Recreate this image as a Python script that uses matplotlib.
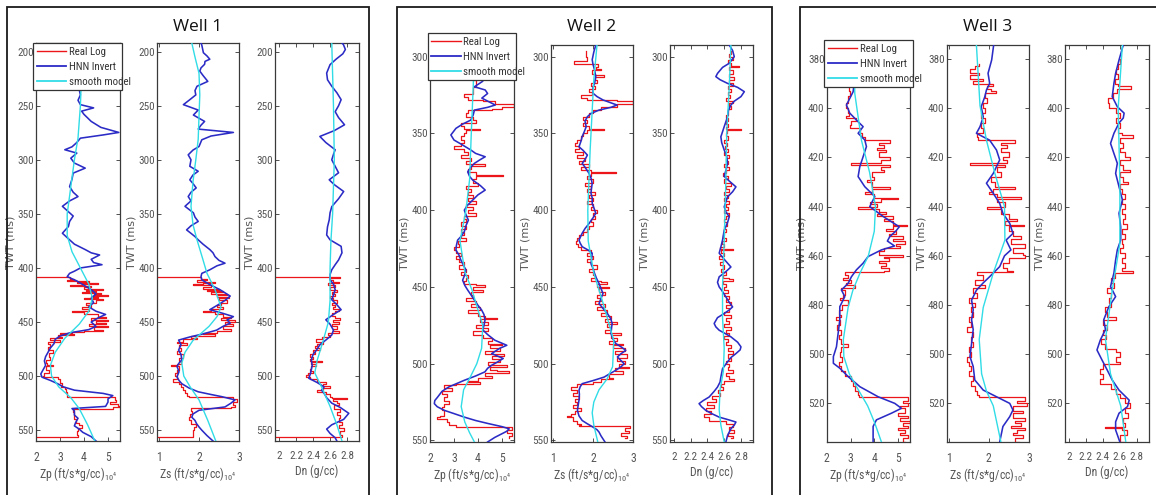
import matplotlib
matplotlib.use("Agg")
import matplotlib.pyplot as plt
from matplotlib.patches import Rectangle
from matplotlib.lines import Line2D

plt.rcParams['font.family'] = ['Liberation Sans Narrow', 'DejaVu Sans Condensed', 'Roboto Condensed',
                               'Liberation Sans', 'DejaVu Sans']

# ---------------------------------------------------------------- data
# ---- Well 1 ----
W1_ZP_REAL_T = [408, 408, 410, 411, 412, 413, 414, 415, 416, 417, 418, 419, 420, 421, 422, 423, 424, 425, 426, 427, 428, 429, 430, 432, 434, 436, 438, 440, 441, 443, 445, 446, 448, 449, 451, 452, 454, 455, 457, 458, 459, 460, 461, 462, 464, 465, 467, 468, 470, 473, 476, 479, 482, 485, 488, 490, 491, 494, 497, 500, 501, 503, 505, 506, 508, 510, 512, 515, 518, 519, 522, 524, 526, 528, 529, 530, 533, 537, 540, 543, 545, 548, 551, 554, 556.5, 556.5]
W1_ZP_REAL_V = [0, 3.4, 3.6, 3.3, 4.2, 3.7, 4.6, 3.9, 3.4, 4.3, 4.0, 4.8, 4.1, 4.5, 3.9, 4.7, 4.4, 5.0, 4.3, 4.6, 4.0, 4.8, 4.5, 4.1, 4.3, 3.9, 4.2, 3.5, 4.0, 4.6, 4.9, 4.3, 5.0, 4.5, 4.9, 4.2, 5.0, 4.4, 4.8, 4.0, 3.5, 3.0, 3.6, 2.9, 3.1, 2.6, 3.0, 2.5, 2.6, 2.5, 2.7, 2.55, 2.6, 2.4, 2.45, 2.7, 2.4, 2.55, 2.35, 2.3, 2.9, 3.0, 3.0, 3.1, 3.05, 3.2, 3.25, 3.3, 3.3, 5.3, 5.35, 5.1, 5.4, 5.5, 5.2, 3.55, 3.6, 3.6, 3.65, 3.8, 3.9, 3.75, 3.7, 3.75, 3.7, 0]
W1_ZP_HNN_T = [192, 200, 210, 220, 230, 240, 245, 249, 252, 255, 258, 264.5, 270, 274.7, 277, 280, 284, 288, 290.7, 293.8, 298.5, 303, 307.7, 312.3, 318, 324.7, 330, 334, 338, 343, 348, 352, 357, 361.7, 367.9, 374, 378, 383, 386, 388, 392, 395, 397, 400, 403, 405, 408, 412, 416, 420, 424, 428, 432, 436, 440, 443, 446, 450, 454, 457, 460, 463, 466, 470, 474, 478, 482, 486, 490, 494, 498, 501, 504, 507, 510, 513, 516, 518, 521, 524, 528, 530, 532, 536, 539, 543, 546, 549, 552, 556, 560]
W1_ZP_HNN_V = [3.8, 3.9, 3.7, 3.9, 3.75, 3.85, 3.75, 3.85, 4.4, 3.9, 4.0, 4.3, 4.7, 5.45, 4.8, 3.85, 3.7, 3.5, 3.2, 3.7, 3.45, 3.6, 4.05, 3.55, 3.5, 3.4, 3.55, 3.75, 3.4, 3.1, 3.35, 3.55, 3.4, 3.35, 3.1, 3.4, 3.6, 4.05, 4.3, 4.65, 4.3, 4.4, 4.75, 3.85, 3.6, 3.4, 3.3, 3.7, 4.0, 4.3, 4.5, 4.3, 4.4, 4.2, 4.5, 4.9, 4.6, 4.3, 4.5, 4.2, 3.4, 3.0, 2.8, 2.75, 2.6, 2.5, 2.4, 2.35, 2.4, 2.3, 2.2, 2.25, 2.6, 2.9, 3.15, 3.6, 4.8, 5.2, 5.0, 5.0, 4.9, 3.5, 3.6, 3.6, 3.75, 3.65, 3.6, 3.8, 3.95, 4.3, 4.5]
W1_ZP_SMOOTH_T = [192, 220, 250, 280, 300, 325, 350, 370, 385, 400, 415, 428, 440, 452, 465, 478, 490, 500, 510, 520, 530, 545, 560]
W1_ZP_SMOOTH_V = [3.95, 3.9, 3.85, 3.75, 3.6, 3.45, 3.3, 3.3, 3.5, 3.85, 4.2, 4.35, 4.2, 3.8, 3.2, 2.8, 2.6, 2.65, 2.95, 3.45, 3.8, 4.15, 4.45]

W1_ZS_REAL_T = [408, 408, 410, 411, 413, 414, 415, 416, 418, 419, 420, 421, 422, 424, 425, 427, 428, 430, 432, 434, 436, 438, 440, 441, 443, 445, 446, 448, 450, 452, 454, 456, 458, 460, 461, 463, 465, 466, 468, 469, 471, 474, 477, 480, 483, 486, 489, 490, 491, 494, 497, 500, 503, 505, 507, 510, 513, 516, 518, 519, 521, 524, 527, 529, 529.5, 532, 535, 538, 541, 544, 547, 550, 553, 556.5, 556.5]
W1_ZS_REAL_V = [0, 2.05, 2.2, 1.95, 2.4, 2.1, 1.85, 2.3, 2.1, 2.5, 2.2, 2.6, 2.3, 2.7, 2.45, 2.75, 2.5, 2.7, 2.55, 2.45, 2.6, 2.3, 2.1, 2.4, 2.6, 2.8, 2.55, 2.9, 2.65, 2.85, 2.6, 2.8, 2.45, 2.1, 2.4, 1.8, 1.95, 1.6, 1.45, 1.7, 1.5, 1.55, 1.45, 1.6, 1.5, 1.55, 1.45, 1.3, 1.5, 1.45, 1.4, 1.45, 1.35, 1.5, 1.55, 1.6, 1.65, 1.7, 1.75, 2.85, 2.95, 2.85, 2.9, 2.8, 1.8, 1.82, 1.78, 1.75, 1.8, 1.92, 1.88, 1.85, 1.85, 1.85, 0]
W1_ZS_HNN_T = [192, 194, 201, 204, 207, 209, 211.7, 215, 218, 222, 227.5, 232, 236, 240, 245, 249, 254, 258.6, 264.5, 268, 271.6, 274.7, 278, 281.5, 287.7, 291, 295.4, 300, 306, 310.6, 314, 318.5, 322, 326, 330, 334, 338, 343, 349, 353, 357, 361, 364.8, 368, 371, 374, 378, 383, 386, 389.5, 393, 395.6, 398, 401.7, 405, 408, 411, 415, 420, 423, 426, 430, 434, 438.6, 442, 445, 448, 451, 454, 457.5, 461, 463.7, 466.7, 471, 476, 480, 485, 488, 491, 496, 500.7, 504, 507, 511, 514.5, 517, 519, 522, 525, 528.5, 531.6, 535, 538, 541, 544, 547, 550, 555, 560]
W1_ZS_HNN_V = [2.05, 2.07, 2.11, 2.2, 2.27, 2.15, 2.14, 2.05, 2.02, 2.1, 2.22, 1.95, 1.9, 1.92, 1.75, 1.61, 1.98, 1.86, 2.14, 2.05, 1.98, 2.86, 2.3, 2.07, 2.0, 1.85, 1.73, 1.8, 1.77, 1.98, 1.85, 1.77, 1.85, 1.93, 1.8, 1.73, 1.8, 1.65, 1.86, 1.9, 1.98, 1.8, 1.69, 1.8, 1.9, 1.98, 2.1, 2.27, 2.35, 2.4, 2.5, 2.65, 2.45, 2.27, 2.07, 2.05, 2.07, 2.25, 2.52, 2.65, 2.78, 2.65, 2.48, 2.27, 2.6, 2.86, 2.7, 2.78, 2.6, 2.44, 2.1, 1.78, 1.49, 1.55, 1.49, 1.55, 1.57, 1.5, 1.45, 1.5, 1.45, 1.5, 1.57, 1.75, 1.98, 2.3, 2.57, 2.9, 2.8, 2.65, 2.0, 1.85, 1.82, 1.9, 1.94, 2.0, 2.07, 2.2, 2.35]
W1_ZS_SMOOTH_T = [192, 205, 220, 240, 260, 281, 300, 320, 343, 360, 374, 390, 405, 420, 436, 445, 454, 467, 478, 488, 500, 510, 522, 541, 560]
W1_ZS_SMOOTH_V = [1.82, 1.9, 2.0, 2.02, 2.0, 1.98, 1.92, 1.85, 1.8, 1.85, 1.95, 2.08, 2.2, 2.4, 2.55, 2.45, 2.25, 1.85, 1.65, 1.57, 1.62, 1.78, 2.0, 2.22, 2.42]

W1_DN_REAL_T = [408, 408, 408.5, 409, 411, 413, 414, 416, 418, 420, 422, 424, 426, 428, 430, 432, 434, 436, 438, 440, 442, 444, 446, 448, 450, 452, 454, 456, 458, 460, 462, 464, 466, 468, 470, 472, 474, 476, 478, 480, 482, 484, 486, 487, 489, 491, 493, 495, 497, 499, 501, 503, 505, 507, 509, 511, 513, 515, 517, 519, 520, 521, 523, 525, 527, 530, 533, 536, 539, 542, 545, 548, 551, 554, 556.5, 556.5]
W1_DN_REAL_V = [0, 2.62, 2.72, 2.6, 2.63, 2.7, 2.58, 2.66, 2.6, 2.68, 2.62, 2.66, 2.6, 2.64, 2.68, 2.62, 2.66, 2.64, 2.7, 2.66, 2.62, 2.66, 2.72, 2.64, 2.7, 2.62, 2.68, 2.64, 2.7, 2.58, 2.6, 2.5, 2.44, 2.52, 2.45, 2.42, 2.48, 2.4, 2.42, 2.36, 2.4, 2.36, 2.5, 2.38, 2.44, 2.38, 2.36, 2.4, 2.34, 2.32, 2.36, 2.45, 2.55, 2.52, 2.6, 2.52, 2.45, 2.55, 2.6, 2.62, 2.8, 2.64, 2.68, 2.7, 2.65, 2.72, 2.68, 2.72, 2.7, 2.74, 2.7, 2.76, 2.72, 2.74, 2.72, 0]
W1_DN_HNN_T = [192, 193.5, 198, 202, 207, 212, 219.8, 226, 232, 238, 244.4, 250, 255.5, 261, 267.6, 273, 278.4, 284, 290.7, 295, 300, 306, 312, 318.5, 323, 329.3, 336, 343.3, 349, 355.6, 362, 369.5, 374, 380, 386, 392.6, 397, 401.7, 406, 411, 415, 420, 425, 429.4, 434, 438.6, 443, 447.9, 452, 457.5, 462, 466.7, 471, 476, 480, 485, 490, 497.6, 502, 506, 510, 513, 516, 520, 525, 529, 534.4, 540, 545, 549, 553, 557, 560]
W1_DN_HNN_V = [2.74, 2.757, 2.78, 2.75, 2.67, 2.6, 2.56, 2.57, 2.62, 2.68, 2.73, 2.7, 2.66, 2.7, 2.77, 2.65, 2.48, 2.55, 2.66, 2.64, 2.62, 2.66, 2.7, 2.59, 2.65, 2.76, 2.7, 2.62, 2.6, 2.59, 2.57, 2.56, 2.6, 2.73, 2.74, 2.7, 2.66, 2.62, 2.6, 2.6, 2.64, 2.66, 2.64, 2.62, 2.68, 2.73, 2.64, 2.55, 2.6, 2.64, 2.62, 2.55, 2.48, 2.44, 2.4, 2.38, 2.39, 2.37, 2.35, 2.45, 2.53, 2.5, 2.53, 2.56, 2.62, 2.72, 2.82, 2.76, 2.62, 2.56, 2.6, 2.66, 2.68]
W1_DN_SMOOTH_T = [192, 250, 300, 350, 375, 400, 430, 450, 467, 485, 497, 510, 528, 545, 560]
W1_DN_SMOOTH_V = [2.62, 2.64, 2.65, 2.63, 2.61, 2.6, 2.6, 2.58, 2.52, 2.45, 2.42, 2.5, 2.6, 2.68, 2.74]

# ---- Well 2 ----
W2_ZP_REAL_T = [296, 300, 305, 310, 315, 320, 322, 324, 326, 328, 329, 331, 333, 334, 335, 337, 339, 341, 343, 345, 347, 348, 350, 352, 354, 356, 358, 360, 362, 364, 366, 368, 370, 371, 373, 375, 377, 378, 380, 382, 384, 386, 388, 390, 392, 394, 396, 398, 400, 402, 404, 406, 408, 410, 412, 414, 416, 418, 420, 422, 424, 426, 428, 430, 432, 434, 436, 438, 440, 442, 444, 446, 448, 449, 450, 452, 453, 455, 457, 459, 461, 463, 465, 467, 469, 470, 471, 473, 475, 477, 479, 481, 483, 485, 487, 488, 490, 492, 494, 495, 497, 499, 501, 502, 504, 505, 506, 508, 509, 511, 512, 513, 514, 516, 518, 520, 522, 524, 526, 528, 530, 532, 534, 535, 536, 538, 540, 541, 543, 545, 547, 548.5]
W2_ZP_REAL_V = [3.6, 3.7, 3.9, 3.8, 3.9, 3.8, 3.8, 3.4, 3.6, 4.2, 4.7, 5.5, 5.0, 4.6, 3.6, 3.5, 3.8, 3.9, 3.3, 3.4, 4.1, 3.5, 3.4, 3.3, 3.4, 3.3, 3.0, 3.4, 3.6, 3.3, 3.7, 3.5, 4.3, 3.7, 3.6, 3.9, 5.05, 3.9, 3.8, 4.0, 3.5, 3.7, 3.6, 3.8, 3.6, 3.9, 3.5, 3.8, 3.6, 3.9, 3.4, 3.5, 3.3, 3.5, 3.3, 3.4, 3.3, 3.5, 3.15, 3.2, 3.0, 3.1, 3.3, 3.1, 3.2, 3.4, 3.2, 3.5, 3.3, 3.6, 3.5, 3.4, 3.9, 4.3, 3.8, 4.2, 3.7, 3.8, 3.5, 3.9, 3.7, 4.1, 3.6, 4.0, 4.3, 4.8, 4.1, 4.4, 3.9, 4.4, 3.8, 4.2, 4.6, 4.4, 5.0, 4.5, 4.9, 4.3, 5.1, 4.6, 4.9, 4.4, 5.2, 4.5, 4.8, 5.3, 4.3, 4.6, 4.0, 3.6, 4.1, 3.1, 2.6, 2.9, 2.5, 2.7, 2.6, 2.8, 2.6, 2.5, 2.6, 2.6, 2.4, 2.3, 2.7, 2.8, 3.1, 5.4, 5.2, 5.4, 5.3, 5.3]
W2_ZP_HNN_T = [292.4, 300, 310, 316, 319.6, 321.7, 324, 327, 331.5, 333, 334.8, 338, 341.3, 344, 346.7, 351, 354.3, 357, 360.8, 363, 365.2, 367, 369.5, 372, 375, 378, 380.4, 384, 386.9, 390, 393.4, 397, 400, 403, 406.5, 410, 414, 417, 419.5, 423, 426, 429, 432.6, 436, 439, 442, 445.6, 449, 452, 455, 458.6, 462, 465, 468, 471.7, 475, 478, 481, 484.7, 488, 490, 493.4, 496.6, 499, 501, 503, 505.3, 508, 510.8, 513, 515, 518, 521.7, 524, 526, 528, 530.4, 532.5, 534.8, 537, 539, 541, 542.4, 544, 545.6, 548, 551]
W2_ZP_HNN_V = [4.0, 4.1, 3.9, 4.2, 3.85, 4.3, 4.4, 4.16, 4.72, 4.4, 3.85, 3.8, 3.7, 3.35, 3.08, 2.87, 3.0, 3.3, 3.7, 3.9, 4.3, 4.1, 3.85, 3.7, 3.57, 3.65, 3.78, 4.1, 4.3, 4.0, 3.78, 3.55, 3.43, 3.5, 3.6, 3.5, 3.43, 3.3, 3.15, 3.1, 3.08, 3.2, 3.29, 3.4, 3.5, 3.45, 3.36, 3.45, 3.57, 3.7, 3.85, 4.0, 4.15, 4.25, 4.29, 4.25, 4.2, 4.4, 4.7, 5.2, 4.9, 4.57, 5.05, 4.8, 4.57, 4.4, 4.29, 3.9, 3.43, 3.1, 2.8, 2.5, 2.32, 2.2, 2.18, 2.3, 2.6, 3.0, 3.43, 3.9, 4.43, 5.0, 5.3, 5.2, 5.0, 4.7, 4.4]
W2_ZP_SMOOTH_T = [292.4, 320, 350, 380, 400, 420, 440, 452, 465, 475, 490, 500, 508, 517, 528, 538, 545, 551]
W2_ZP_SMOOTH_V = [3.85, 3.8, 3.72, 3.65, 3.5, 3.25, 3.45, 3.75, 4.0, 4.2, 4.15, 3.95, 3.7, 3.4, 3.3, 3.45, 3.65, 3.85]

W2_ZS_REAL_T = [296, 300, 302.5, 302.5, 305, 305, 307, 308, 309, 311, 312, 313, 315, 317, 319, 321, 323, 325, 327, 328, 329, 331, 333, 335, 337, 339, 341, 343, 345, 347, 348, 350, 352, 354, 356, 358, 360, 362, 364, 366, 368, 370, 372, 374, 375, 376, 378, 380, 382, 384, 386, 388, 390, 392, 394, 396, 398, 400, 402, 404, 406, 408, 410, 412, 414, 416, 418, 420, 422, 424, 426, 428, 430, 432, 434, 436, 438, 440, 442, 444, 446, 447, 448, 450, 451, 453, 455, 457, 459, 461, 463, 465, 467, 469, 471, 473, 474, 476, 478, 480, 481, 483, 485, 487, 488, 490, 492, 494, 496, 498, 500, 502, 503, 505, 507, 509, 510, 512, 513, 515, 517, 519, 521, 523, 525, 527, 529, 531, 533, 534, 535, 537, 539, 540, 540.5, 542, 544, 545, 547, 548.5]
W2_ZS_REAL_V = [1.82, 1.85, 1.82, 1.53, 1.53, 2.12, 2.08, 2.2, 1.98, 2.05, 2.28, 2.05, 2.1, 1.95, 2.05, 1.9, 1.98, 1.7, 1.85, 2.6, 3.0, 2.6, 2.2, 2.0, 1.9, 1.75, 1.85, 1.75, 1.9, 2.28, 1.85, 1.75, 1.7, 1.6, 1.55, 1.65, 1.55, 1.75, 1.6, 1.8, 1.65, 1.9, 1.7, 1.95, 2.57, 1.95, 1.85, 2.0, 1.8, 1.95, 1.85, 2.05, 1.9, 2.0, 1.85, 2.0, 1.95, 2.1, 2.0, 2.05, 1.95, 2.0, 1.9, 1.85, 1.75, 1.65, 1.6, 1.58, 1.62, 1.7, 1.95, 1.85, 2.0, 1.85, 1.95, 2.1, 1.9, 2.0, 2.05, 1.95, 2.2, 2.35, 2.1, 2.4, 2.15, 2.3, 2.1, 2.2, 2.05, 2.3, 2.1, 2.35, 2.2, 2.45, 2.3, 2.6, 2.35, 2.45, 2.3, 2.7, 2.45, 2.6, 2.4, 2.75, 2.5, 2.8, 2.55, 2.85, 2.6, 2.8, 2.65, 2.9, 2.55, 2.75, 2.4, 2.5, 2.2, 2.0, 1.6, 1.45, 1.6, 1.5, 1.65, 1.55, 1.6, 1.5, 1.7, 1.55, 1.45, 1.35, 1.5, 1.6, 1.7, 1.65, 2.93, 2.8, 2.9, 2.7, 2.85, 2.8]
W2_ZS_HNN_T = [292.4, 297, 302, 305, 308.7, 313, 317.3, 320, 323.8, 326, 328.2, 331.5, 333, 334.8, 337, 339.1, 342, 345.6, 349, 352, 355, 358.7, 361, 364.1, 367, 369.5, 372, 376, 379, 382.6, 386, 389, 392, 395.6, 399, 402, 405, 408.7, 412, 415, 419.5, 421.5, 423.8, 426, 428, 431, 434.8, 438, 441.2, 444, 447.7, 451, 454.3, 457.5, 460.8, 464, 467.3, 470.5, 473.8, 477, 480.4, 484, 486.9, 489, 491.3, 493.5, 495.6, 498, 500, 502, 504.3, 506.5, 508.7, 511, 513, 515, 517.3, 520, 523.8, 527, 530.4, 534, 537, 539, 541.3, 543, 544.5, 547, 551]
W2_ZS_HNN_V = [2.07, 2.02, 1.98, 2.0, 2.04, 2.07, 2.04, 2.0, 2.0, 2.1, 2.25, 2.6, 2.45, 2.15, 1.95, 1.86, 1.8, 1.83, 1.78, 1.73, 1.7, 1.65, 1.75, 1.86, 1.8, 1.73, 1.8, 1.9, 1.95, 1.98, 1.96, 1.95, 1.98, 1.98, 2.03, 2.07, 2.0, 1.9, 1.8, 1.73, 1.65, 1.68, 1.73, 1.88, 1.98, 1.97, 1.95, 2.0, 2.04, 2.08, 2.15, 2.2, 2.25, 2.2, 2.15, 2.25, 2.36, 2.44, 2.48, 2.46, 2.45, 2.5, 2.57, 2.7, 2.82, 2.7, 2.61, 2.7, 2.78, 2.7, 2.57, 2.42, 2.28, 2.0, 1.73, 1.68, 1.65, 1.66, 1.65, 1.63, 1.61, 1.65, 1.73, 1.85, 2.0, 2.1, 2.15, 2.2, 2.3]
W2_ZS_SMOOTH_T = [292.4, 315, 340, 360, 380, 400, 420, 441, 463, 485, 502, 510, 517, 525, 532, 540, 551]
W2_ZS_SMOOTH_V = [2.1, 2.02, 1.97, 1.93, 1.9, 1.87, 1.88, 2.02, 2.28, 2.52, 2.49, 2.35, 2.15, 2.02, 1.98, 2.02, 2.12]

W2_DN_REAL_T = [296, 298, 300, 302, 304, 306, 307, 309, 311, 313, 315, 317, 319, 321, 323, 325, 327, 329, 330, 332, 334, 336, 338, 340, 342, 344, 346, 347, 348, 350, 352, 354, 356, 358, 360, 362, 364, 366, 368, 370, 372, 374, 376, 378, 380, 382, 384, 386, 388, 390, 392, 394, 396, 398, 400, 402, 404, 406, 408, 410, 412, 414, 416, 418, 420, 422, 424, 425, 426, 428, 430, 432, 434, 436, 438, 440, 442, 444, 445, 446, 448, 450, 452, 454, 456, 458, 460, 462, 464, 466, 468, 470, 472, 474, 476, 478, 480, 482, 484, 486, 488, 490, 492, 494, 496, 498, 500, 502, 504, 506, 508, 510, 511, 513, 515, 517, 519, 521, 523, 525, 527, 529, 531, 533, 535, 537, 539, 541, 543, 545, 547, 548.5]
W2_DN_REAL_V = [2.68, 2.66, 2.7, 2.64, 2.68, 2.78, 2.66, 2.7, 2.66, 2.72, 2.66, 2.7, 2.65, 2.68, 2.64, 2.67, 2.62, 2.7, 2.66, 2.68, 2.64, 2.65, 2.62, 2.64, 2.62, 2.64, 2.62, 2.8, 2.63, 2.62, 2.64, 2.6, 2.63, 2.61, 2.64, 2.6, 2.66, 2.62, 2.65, 2.6, 2.66, 2.62, 2.58, 2.64, 2.6, 2.68, 2.62, 2.66, 2.6, 2.64, 2.6, 2.66, 2.62, 2.64, 2.6, 2.66, 2.62, 2.6, 2.63, 2.6, 2.62, 2.6, 2.58, 2.62, 2.57, 2.6, 2.55, 2.7, 2.56, 2.6, 2.54, 2.58, 2.55, 2.6, 2.56, 2.62, 2.58, 2.66, 2.7, 2.58, 2.62, 2.6, 2.64, 2.6, 2.66, 2.62, 2.68, 2.62, 2.66, 2.6, 2.68, 2.62, 2.66, 2.6, 2.68, 2.62, 2.66, 2.6, 2.64, 2.62, 2.68, 2.64, 2.7, 2.64, 2.68, 2.62, 2.66, 2.64, 2.7, 2.62, 2.66, 2.72, 2.6, 2.56, 2.58, 2.52, 2.55, 2.45, 2.5, 2.4, 2.48, 2.38, 2.44, 2.36, 2.42, 2.62, 2.7, 2.66, 2.72, 2.64, 2.7, 2.68]
W2_DN_HNN_T = [292.4, 296, 300, 304.3, 307, 310.9, 313, 315, 317.4, 320, 322.8, 326, 329, 331.5, 335, 339.1, 345.6, 352.2, 356, 360.8, 365, 369.5, 374, 378, 381, 384.8, 388, 391.3, 397.8, 401, 404.3, 408, 413, 419.5, 424, 428, 432, 437, 440, 443.4, 447, 450, 453, 456.5, 460, 463, 465, 467.3, 470, 473.8, 476, 478.2, 480, 482.5, 486, 489, 491, 493.4, 496, 498.8, 503.2, 508.7, 512, 515.2, 518, 521.7, 524, 526, 528, 530.4, 532.5, 534.8, 536.5, 538, 540, 542.4, 546.7, 551]
W2_DN_HNN_V = [2.66, 2.7, 2.72, 2.66, 2.58, 2.52, 2.5, 2.55, 2.64, 2.76, 2.84, 2.8, 2.72, 2.68, 2.65, 2.64, 2.6, 2.56, 2.57, 2.6, 2.63, 2.64, 2.62, 2.6, 2.66, 2.74, 2.7, 2.64, 2.6, 2.62, 2.66, 2.64, 2.6, 2.58, 2.56, 2.54, 2.6, 2.68, 2.62, 2.54, 2.52, 2.54, 2.58, 2.62, 2.66, 2.7, 2.66, 2.6, 2.52, 2.48, 2.5, 2.54, 2.6, 2.68, 2.76, 2.8, 2.79, 2.74, 2.68, 2.64, 2.58, 2.56, 2.55, 2.52, 2.48, 2.42, 2.35, 2.3, 2.33, 2.38, 2.45, 2.54, 2.65, 2.74, 2.72, 2.68, 2.64, 2.62]
W2_DN_SMOOTH_T = [292.4, 320, 350, 380, 420, 450, 470, 490, 505, 517, 530, 540, 551]
W2_DN_SMOOTH_V = [2.68, 2.66, 2.63, 2.62, 2.6, 2.58, 2.58, 2.6, 2.59, 2.55, 2.54, 2.56, 2.6]

# ---- Well 3 ----
W3_ZP_REAL_T = [382, 386, 390, 393, 395, 398, 400, 402, 403, 404, 405, 407, 408, 410, 411.6, 413, 414, 415, 416, 417, 418, 420, 421, 422.4, 423, 424, 425, 426, 428, 429, 430, 432, 433, 434, 435, 436.5, 437, 438, 439, 440, 441, 442, 443, 444, 445, 446, 447.5, 448, 449, 450, 451, 452, 453, 454, 455, 456, 457, 458, 459.6, 460.5, 461, 462, 463, 464, 465, 466, 466.5, 468, 469, 470, 471, 472, 473, 474, 476, 477, 478, 480, 482, 484, 485, 486, 488, 490, 492, 494, 496, 497, 499, 501, 503, 505, 507, 509, 511, 513, 515, 516.5, 517.5, 519, 520, 521, 522, 524, 525, 526, 527, 528, 529, 530, 531, 532, 533, 534, 535.7]
W3_ZP_REAL_V = [3.0, 3.1, 2.95, 2.97, 2.9, 2.83, 2.9, 2.95, 2.8, 3.25, 3.0, 2.97, 3.4, 3.5, 3.6, 4.65, 4.2, 4.4, 4.1, 4.5, 4.2, 4.65, 4.3, 3.04, 4.65, 4.3, 4.4, 3.9, 4.0, 3.7, 3.9, 4.65, 3.9, 3.6, 4.0, 5.0, 4.3, 3.8, 4.1, 3.32, 4.2, 4.5, 4.1, 4.8, 4.4, 4.8, 5.37, 4.8, 4.5, 4.9, 4.6, 5.2, 4.8, 5.3, 4.9, 5.1, 4.4, 4.2, 5.2, 4.4, 4.6, 4.2, 4.5, 4.3, 4.6, 4.4, 2.76, 2.9, 2.7, 3.0, 2.8, 3.2, 2.6, 2.75, 2.7, 2.55, 2.9, 2.65, 2.5, 2.6, 2.4, 2.55, 2.45, 2.6, 2.5, 2.6, 2.9, 2.6, 2.55, 2.65, 2.5, 2.6, 2.75, 3.0, 3.1, 3.2, 3.3, 3.35, 5.4, 5.2, 5.4, 5.1, 5.3, 5.0, 5.4, 5.1, 5.5, 5.2, 5.4, 5.0, 5.3, 5.1, 5.4, 5.2, 5.3]
W3_ZP_HNN_T = [374.3, 380, 386, 390, 393.3, 396, 398.7, 402, 405.5, 407.5, 410.2, 412.9, 415.6, 419.7, 423.8, 427.8, 431.9, 435.9, 440, 444, 448.2, 450, 452.2, 454, 456, 457.6, 460.3, 463, 465.7, 468.5, 471.2, 473.9, 476.6, 480.7, 486.1, 491.5, 497, 501, 503.7, 505.7, 509.1, 513.2, 517.3, 520, 522, 524, 526.7, 529.4, 535.7]
W3_ZP_HNN_V = [3.2, 3.25, 3.2, 3.15, 3.11, 2.97, 2.83, 2.97, 3.32, 3.53, 3.32, 3.6, 3.67, 3.53, 3.39, 3.32, 3.6, 4.02, 3.81, 4.37, 5.05, 4.9, 4.65, 4.55, 4.85, 4.3, 3.74, 3.53, 3.25, 3.04, 2.9, 2.62, 2.76, 2.55, 2.55, 2.48, 2.41, 2.28, 2.28, 2.55, 2.9, 3.39, 4.16, 4.86, 5.14, 4.72, 4.09, 3.95, 3.95]
W3_ZP_SMOOTH_T = [374.3, 394, 413, 426, 440, 450, 460, 467, 474, 481, 494, 501, 508, 514, 521, 528, 535.7]
W3_ZP_SMOOTH_V = [3.15, 3.18, 3.46, 3.8, 4.05, 4.0, 3.75, 3.4, 3.1, 2.9, 2.7, 2.72, 2.95, 3.3, 3.72, 4.02, 4.3]

W3_ZS_REAL_T = [382, 383, 384, 385.5, 386.5, 388, 389, 390, 391, 392, 393, 394, 396, 398, 400, 402, 404, 406, 408, 410, 411.5, 413, 414, 415, 416, 418, 420, 421, 422.4, 423, 424, 426, 428, 430, 432, 433, 434, 435, 436, 437, 438, 440, 441, 443, 445, 446, 447.5, 448, 450, 452, 453, 455, 457, 459, 459.6, 461, 463, 465, 466, 466.5, 468, 470, 472, 473, 475, 477, 479, 481, 483, 485, 487, 489, 491, 493, 495, 497, 499, 501, 503, 505, 507, 509, 511, 513, 515, 516.5, 517.5, 519, 520, 521, 523, 524, 526, 527, 528, 529, 530, 531, 532, 533, 534, 535.7]
W3_ZS_REAL_V = [1.75, 1.66, 1.53, 1.75, 1.53, 1.85, 1.6, 2.1, 1.95, 2.05, 2.18, 1.9, 1.95, 1.85, 1.9, 1.8, 1.9, 1.8, 1.85, 1.7, 1.72, 2.64, 2.3, 2.45, 2.3, 2.5, 2.35, 2.45, 1.53, 2.4, 2.2, 2.3, 2.05, 2.15, 2.64, 2.1, 2.0, 2.2, 2.8, 2.2, 2.4, 1.95, 2.3, 2.5, 2.7, 2.4, 2.87, 2.5, 2.6, 2.8, 2.55, 2.9, 2.6, 2.85, 2.9, 2.5, 2.35, 2.45, 2.6, 1.7, 1.85, 1.65, 1.9, 1.6, 1.7, 1.5, 1.65, 1.55, 1.6, 1.5, 1.55, 1.45, 1.6, 1.55, 1.6, 1.5, 1.55, 1.45, 1.5, 1.55, 1.5, 1.6, 1.55, 1.65, 1.7, 1.75, 2.9, 2.7, 2.95, 2.6, 2.85, 2.6, 2.9, 2.65, 2.8, 2.55, 2.9, 2.7, 2.6, 2.85, 2.65, 2.75]
W3_ZS_HNN_T = [374.3, 380.4, 385.8, 389.9, 392.6, 395.3, 399.4, 403.5, 407.5, 410.2, 413, 417, 421, 426.5, 430.5, 434.6, 438.7, 442.7, 446.8, 450.9, 453.6, 457.6, 460, 464.4, 468.5, 471, 474, 478, 482, 486, 490, 495.6, 501, 505, 510.5, 514.6, 517.3, 520, 522.7, 525.4, 529.4, 535.7]
W3_ZS_HNN_V = [2.12, 2.07, 1.98, 2.02, 1.94, 1.9, 1.81, 1.86, 1.78, 1.69, 2.02, 2.19, 2.27, 2.11, 1.94, 2.11, 2.27, 2.35, 2.52, 2.6, 2.43, 2.55, 2.39, 2.27, 2.02, 1.86, 1.69, 1.57, 1.61, 1.57, 1.61, 1.57, 1.53, 1.61, 1.65, 1.86, 2.19, 2.52, 2.6, 2.52, 2.35, 2.27]
W3_ZS_SMOOTH_T = [374.3, 399, 413, 426.5, 440, 453.6, 467, 481, 494, 508, 515, 521, 535.7]
W3_ZS_SMOOTH_V = [1.69, 1.78, 1.94, 2.15, 2.39, 2.4, 2.11, 1.86, 1.76, 1.82, 1.94, 2.11, 2.3]

W3_DN_REAL_T = [380, 382, 384, 386, 388, 390, 391, 392, 394, 396, 398, 400, 402, 404, 406, 408, 410, 411, 412, 414, 416, 418, 420, 421, 423, 425, 426, 428, 430, 431, 433, 435, 437, 439, 441, 443, 445, 447, 449, 451, 453, 455, 457, 459, 461, 463, 465, 466, 467, 469, 471, 473, 475, 477, 479, 481, 483, 485, 486, 488, 490, 492, 494, 496, 498, 499, 501, 503, 504, 506, 508, 510, 512, 514, 516, 518, 520, 522, 524, 526, 528, 529.4, 530, 531, 533, 535.7]
W3_DN_REAL_V = [2.6, 2.58, 2.55, 2.58, 2.54, 2.58, 2.73, 2.57, 2.52, 2.46, 2.47, 2.55, 2.6, 2.56, 2.6, 2.58, 2.62, 2.75, 2.6, 2.64, 2.6, 2.66, 2.72, 2.6, 2.64, 2.72, 2.6, 2.64, 2.7, 2.6, 2.62, 2.66, 2.62, 2.66, 2.62, 2.66, 2.64, 2.68, 2.62, 2.66, 2.62, 2.64, 2.6, 2.66, 2.62, 2.66, 2.62, 2.75, 2.54, 2.5, 2.53, 2.45, 2.5, 2.47, 2.5, 2.42, 2.45, 2.55, 2.4, 2.45, 2.4, 2.44, 2.38, 2.42, 2.55, 2.6, 2.56, 2.6, 2.4, 2.36, 2.4, 2.37, 2.5, 2.56, 2.6, 2.66, 2.72, 2.66, 2.7, 2.64, 2.66, 2.42, 2.62, 2.68, 2.6, 2.66]
W3_DN_HNN_T = [374.3, 380.4, 385.8, 389.9, 395.3, 399.4, 402, 404, 406, 410.2, 414.3, 418.4, 422.4, 426.5, 431.9, 437.3, 442.7, 448.2, 453.6, 457.6, 461.7, 467, 472.5, 476.6, 480.7, 486, 490, 494.2, 498.3, 502.4, 506.4, 510.5, 514.6, 518.7, 521.3, 524, 527.5, 530.8, 535.7]
W3_DN_HNN_V = [2.64, 2.59, 2.55, 2.53, 2.51, 2.57, 2.65, 2.64, 2.59, 2.53, 2.49, 2.53, 2.57, 2.55, 2.59, 2.63, 2.59, 2.61, 2.61, 2.57, 2.55, 2.53, 2.49, 2.55, 2.47, 2.41, 2.43, 2.37, 2.33, 2.39, 2.45, 2.51, 2.59, 2.71, 2.69, 2.59, 2.55, 2.55, 2.6]
W3_DN_SMOOTH_T = [374.3, 400, 430, 455, 474, 494, 508, 521, 535.7]
W3_DN_SMOOTH_V = [2.63, 2.58, 2.6, 2.6, 2.51, 2.43, 2.49, 2.61, 2.67]

WELL_TITLES = ["Well 1", "Well 2", "Well 3"]
YLIMS = [(192, 560), (292.4, 551), (374.3, 535.7)]
YTICKS = [[200, 250, 300, 350, 400, 450, 500, 550],
          [300, 350, 400, 450, 500, 550],
          [380, 400, 420, 440, 460, 480, 500, 520]]
TRACK_XLIMS = [(2, 5.5), (0.95, 3.0), (1.953, 2.94)]
TRACK_XTICKS = [[2, 3, 4, 5], [1, 2, 3], [2, 2.2, 2.4, 2.6, 2.8]]
TRACK_XTICKLABELS = [["2", "3", "4", "5"], ["1", "2", "3"], ["2", "2.2", "2.4", "2.6", "2.8"]]
TRACK_XLABELS = ["Zp (ft/s*g/cc)", "Zs (ft/s*g/cc)", "Dn (g/cc)"]
TRACK_EXPONENT = [True, True, False]
LEGEND_LABELS = ["Real Log", "HNN Invert", "smooth model"]

WELL_DATA = [
    [(W1_ZP_REAL_T, W1_ZP_REAL_V, W1_ZP_HNN_T, W1_ZP_HNN_V, W1_ZP_SMOOTH_T, W1_ZP_SMOOTH_V),
     (W1_ZS_REAL_T, W1_ZS_REAL_V, W1_ZS_HNN_T, W1_ZS_HNN_V, W1_ZS_SMOOTH_T, W1_ZS_SMOOTH_V),
     (W1_DN_REAL_T, W1_DN_REAL_V, W1_DN_HNN_T, W1_DN_HNN_V, W1_DN_SMOOTH_T, W1_DN_SMOOTH_V)],
    [(W2_ZP_REAL_T, W2_ZP_REAL_V, W2_ZP_HNN_T, W2_ZP_HNN_V, W2_ZP_SMOOTH_T, W2_ZP_SMOOTH_V),
     (W2_ZS_REAL_T, W2_ZS_REAL_V, W2_ZS_HNN_T, W2_ZS_HNN_V, W2_ZS_SMOOTH_T, W2_ZS_SMOOTH_V),
     (W2_DN_REAL_T, W2_DN_REAL_V, W2_DN_HNN_T, W2_DN_HNN_V, W2_DN_SMOOTH_T, W2_DN_SMOOTH_V)],
    [(W3_ZP_REAL_T, W3_ZP_REAL_V, W3_ZP_HNN_T, W3_ZP_HNN_V, W3_ZP_SMOOTH_T, W3_ZP_SMOOTH_V),
     (W3_ZS_REAL_T, W3_ZS_REAL_V, W3_ZS_HNN_T, W3_ZS_HNN_V, W3_ZS_SMOOTH_T, W3_ZS_SMOOTH_V),
     (W3_DN_REAL_T, W3_DN_REAL_V, W3_DN_HNN_T, W3_DN_HNN_V, W3_DN_SMOOTH_T, W3_DN_SMOOTH_V)],
]

# ---------------------------------------------------------------- layout (pixels)
W, H = 1156, 495
BOXES = [(7, 369), (397, 772), (800, 1170)]
AX_X = [[(36, 120), (157, 239), (275, 359)],
        [(430, 514), (551, 633), (670, 752.7)],
        [(826.7, 910), (946.7, 1029), (1065, 1148.7)]]
AX_Y = [(43, 441), (45, 442), (45, 442)]
LEG_BOX = [(33, 43, 89, 54), (427.7, 33, 88.3, 54), (824, 40, 88.7, 54)]

RED = "#ec1519"
BLUE = "#2b2bc6"
CYAN = "#30dce6"
GRAY = "#555555"

fig = plt.figure(figsize=(W / 100, H / 100), dpi=100)

for w in range(3):
    bx0, bx1 = BOXES[w]
    fig.add_artist(Rectangle((bx0 / W, -0.1), (bx1 - bx0) / W, 1.1 - 7 / H,
                             transform=fig.transFigure, fill=False,
                             ec="#1a1a1a", lw=1.3))
    top, bot = AX_Y[w]
    first_ax = None
    for k in range(3):
        x0, x1 = AX_X[w][k]
        ax = fig.add_axes([x0 / W, 1 - bot / H, (x1 - x0) / W, (bot - top) / H])
        rt, rv, ht, hv, st, sv = WELL_DATA[w][k]
        ax.plot(rv, rt, color=RED, lw=0.9, zorder=2, drawstyle="steps-pre")
        ax.plot(hv, ht, color=BLUE, lw=1.15, zorder=3)
        ax.plot(sv, st, color=CYAN, lw=1.0, zorder=4)
        ax.set_xlim(*TRACK_XLIMS[k])
        ax.set_ylim(YLIMS[w][1], YLIMS[w][0])
        ax.set_xticks(TRACK_XTICKS[k])
        ax.set_xticklabels(TRACK_XTICKLABELS[k])
        ax.set_yticks(YTICKS[w])
        ax.tick_params(direction="in", length=3, width=0.6, top=True, right=True,
                       labelsize=8.5, labelcolor=GRAY, color="#333333")
        ax.tick_params(axis="x", pad=7, labelsize=8 if k == 2 else 8.5)
        ax.tick_params(axis="y", pad=1.5, labelsize=8)
        for sp in ax.spines.values():
            sp.set_color("#3a3a3a")
            sp.set_linewidth(0.9)
        axw = x1 - x0
        axh = bot - top
        label = TRACK_XLABELS[k]
        if TRACK_EXPONENT[k]:
            label = label + r"$_{\mathregular{10}^{\mathregular{4}}}$"
        ax.set_xlabel(label, fontsize=8.5, color=GRAY)
        ax.xaxis.set_label_coords(0.5, -24 / axh)
        ax.set_ylabel("TWT (ms)", fontsize=8, color=GRAY, family="DejaVu Sans")
        ax.yaxis.set_label_coords(-20.5 / axw, 0.5)
        if k == 0:
            first_ax = ax
    # legend
    lx, ly, lw_, lh = LEG_BOX[w]
    leg = first_ax.legend(handles=[Line2D([], [], color=RED, lw=1.0),
                                   Line2D([], [], color=BLUE, lw=1.3),
                                   Line2D([], [], color=CYAN, lw=1.3)],
                          labels=LEGEND_LABELS,
                          loc="upper left",
                          bbox_to_anchor=(lx / W, 1 - (ly + lh) / H, lw_ / W, lh / H),
                          bbox_transform=fig.transFigure, mode="expand",
                          borderaxespad=0, fontsize=7.8, handlelength=2.7,
                          handletextpad=0.25, labelspacing=0.45, borderpad=0.35,
                          fancybox=False, framealpha=1, edgecolor="#333333")
    leg.get_frame().set_linewidth(0.9)
    leg.set_zorder(10)
    for t in leg.get_texts():
        t.set_color("#333333")
    cx = (AX_X[w][0][0] + AX_X[w][2][1]) / 2
    fig.text(cx / W, 1 - 27 / H, WELL_TITLES[w], ha="center", va="center",
             fontsize=12.5, family=["Open Sans", "DejaVu Sans"], color="#111111")

fig.savefig("out.png", dpi=100)
